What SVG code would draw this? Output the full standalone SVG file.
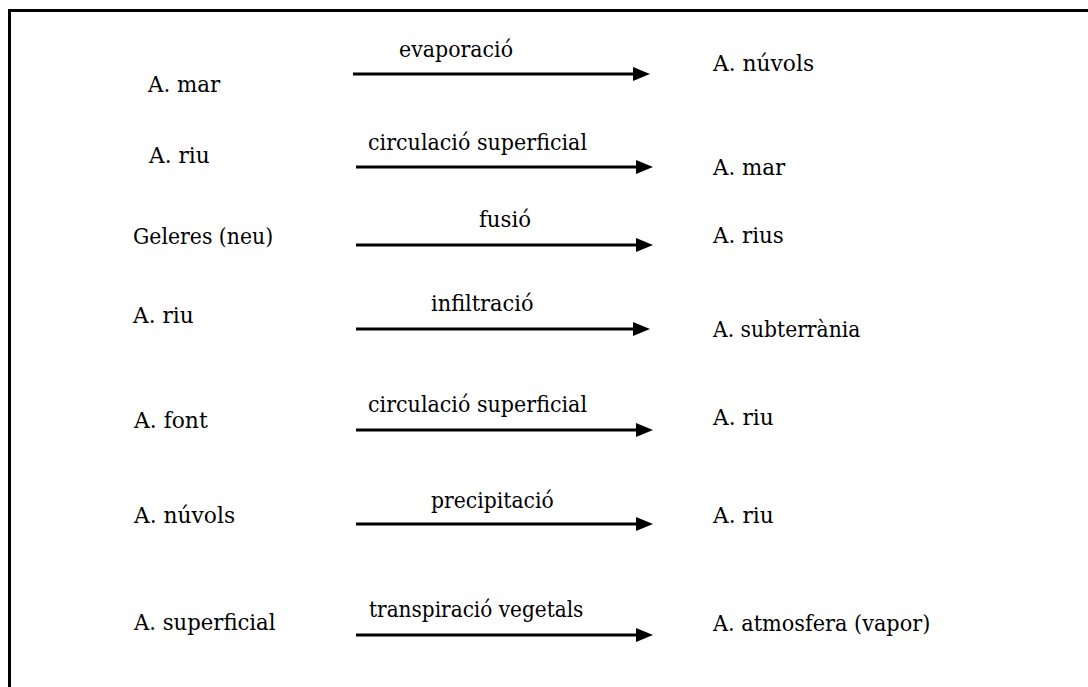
<svg xmlns="http://www.w3.org/2000/svg" width="1088" height="687" viewBox="0 0 1088 687">
<style>
text{font-family:"DejaVu Serif",serif;font-size:23px;fill:#000}
.c{stroke:#000;stroke-width:3;fill:none}
</style>
<defs>
<path id="ah" d="M-17,-7 L0,0 L-17,7 Z" fill="#000"/>
</defs>
<rect width="1088" height="687" fill="#fff"/>
<path d="M9.5,687 V10.5 H1088" stroke="#000" stroke-width="3" fill="none"/>
<g id="connectors">
<line class="c" x1="353" y1="74" x2="636" y2="74"/><use href="#ah" x="650" y="74"/>
<line class="c" x1="356" y1="167" x2="639" y2="167"/><use href="#ah" x="653" y="167"/>
<line class="c" x1="356" y1="245" x2="639" y2="245"/><use href="#ah" x="653" y="245"/>
<line class="c" x1="356" y1="329" x2="636" y2="329"/><use href="#ah" x="650" y="329"/>
<line class="c" x1="356" y1="430" x2="639" y2="430"/><use href="#ah" x="653" y="430"/>
<line class="c" x1="356" y1="524" x2="639" y2="524"/><use href="#ah" x="653" y="524"/>
<line class="c" x1="356" y1="635" x2="639" y2="635"/><use href="#ah" x="653" y="635"/>
<text x="399" y="57" textLength="114" lengthAdjust="spacingAndGlyphs">evaporació</text>
<text x="368" y="150" textLength="219" lengthAdjust="spacingAndGlyphs">circulació superficial</text>
<text x="479" y="227" textLength="52" lengthAdjust="spacingAndGlyphs">fusió</text>
<text x="431" y="311" textLength="102.5" lengthAdjust="spacingAndGlyphs">infiltració</text>
<text x="368" y="412" textLength="219" lengthAdjust="spacingAndGlyphs">circulació superficial</text>
<text x="431" y="508" textLength="122.7" lengthAdjust="spacingAndGlyphs">precipitació</text>
<text x="369" y="617" textLength="214.4" lengthAdjust="spacingAndGlyphs">transpiració vegetals</text>
</g>
<g id="src1"><text x="148" y="92" textLength="72.2" lengthAdjust="spacingAndGlyphs">A. mar</text></g>
<g id="src2"><text x="149" y="163" textLength="60.7" lengthAdjust="spacingAndGlyphs">A. riu</text></g>
<g id="src3"><text x="133" y="244" textLength="140.2" lengthAdjust="spacingAndGlyphs">Geleres (neu)</text></g>
<g id="src4"><text x="133" y="323" textLength="60.7" lengthAdjust="spacingAndGlyphs">A. riu</text></g>
<g id="src5"><text x="134" y="428" textLength="73.7" lengthAdjust="spacingAndGlyphs">A. font</text></g>
<g id="src6"><text x="134" y="523" textLength="101.1" lengthAdjust="spacingAndGlyphs">A. núvols</text></g>
<g id="src7"><text x="134" y="630" textLength="141.5" lengthAdjust="spacingAndGlyphs">A. superficial</text></g>
<g id="dst1"><text x="713" y="71" textLength="101.1" lengthAdjust="spacingAndGlyphs">A. núvols</text></g>
<g id="dst2"><text x="713" y="175" textLength="72.2" lengthAdjust="spacingAndGlyphs">A. mar</text></g>
<g id="dst3"><text x="713" y="243" textLength="70.8" lengthAdjust="spacingAndGlyphs">A. rius</text></g>
<g id="dst4"><text x="713" y="337" textLength="147.3" lengthAdjust="spacingAndGlyphs">A. subterrània</text></g>
<g id="dst5"><text x="713" y="425" textLength="60.7" lengthAdjust="spacingAndGlyphs">A. riu</text></g>
<g id="dst6"><text x="713" y="523" textLength="60.7" lengthAdjust="spacingAndGlyphs">A. riu</text></g>
<g id="dst7"><text x="713" y="631" textLength="217.3" lengthAdjust="spacingAndGlyphs">A. atmosfera (vapor)</text></g>
</svg>
